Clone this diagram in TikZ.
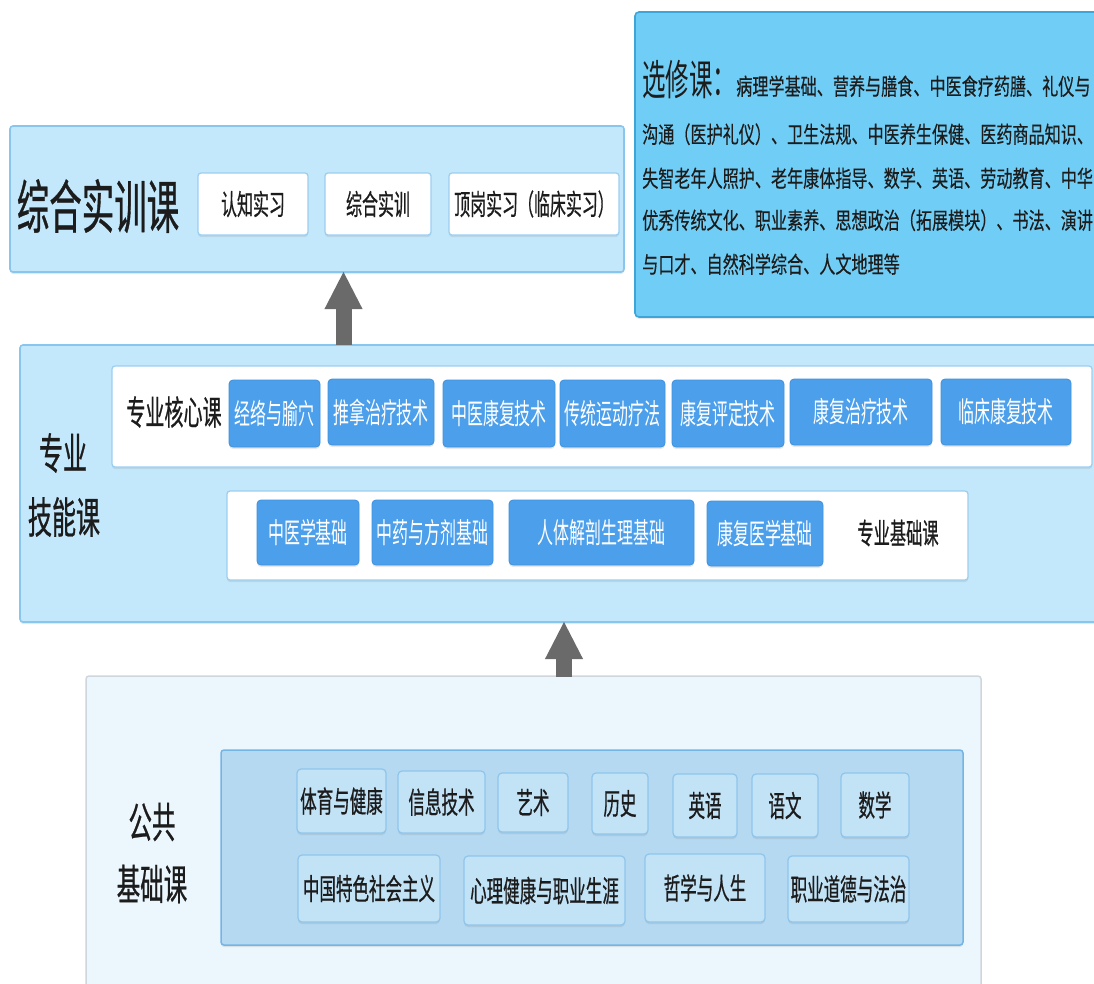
\documentclass[tikz,border=0pt]{standalone}
\usepackage{fontspec}
\usetikzlibrary{arrows.meta,shadows}
\newfontfamily\cjk[FakeStretch=0.56]{Noto Sans CJK SC}
\newfontfamily\cjkb[FakeStretch=0.56,FakeBold=0.6]{Noto Sans CJK SC}
\newfontfamily\cjkw[FakeStretch=0.70,FakeBold=0.3]{Noto Sans CJK SC}
\definecolor{layfill}{HTML}{C4E8FB}
\definecolor{laybd}{HTML}{88C6EE}
\definecolor{whbd}{HTML}{9CCFF0}
\definecolor{btnfill}{HTML}{4C9FEA}
\definecolor{btnbd}{HTML}{3F91DE}
\definecolor{pubout}{HTML}{ECF7FD}
\definecolor{puboutbd}{HTML}{D0D7DC}
\definecolor{pubin}{HTML}{B5D9F1}
\definecolor{pubinbd}{HTML}{74B5E6}
\definecolor{pubbox}{HTML}{C2E2F6}
\definecolor{pubboxbd}{HTML}{8EC5EC}
\definecolor{elfill}{HTML}{70CEF6}
\definecolor{elbd}{HTML}{3EA5D9}
\definecolor{arr}{HTML}{6A6A6A}
\definecolor{ink}{HTML}{1C1C1C}
\newcommand\fs[1]{\fontsize{#1}{#1}\selectfont}
\newcommand\bx[7]{\node[#2, minimum width={#5-#3}, minimum height={#6-#4}] (#1) at ({(#3+#5)/2},{(#4+#6)/2}) {#7};}
\tikzset{
  shad/.style={drop shadow={opacity=0.18, shadow xshift=0pt, shadow yshift=-2pt}},
  layer/.style={draw=laybd, fill=layfill, rounded corners=3pt, line width=1.6pt, inner sep=0pt, shad},
  whitebox/.style={draw=whbd, fill=white, rounded corners=3pt, line width=1.3pt, inner sep=0pt, text=ink, font=\cjkb\fs{28.5}, shad},
  btn/.style={draw=btnbd, fill=btnfill, rounded corners=4pt, line width=0.8pt, inner sep=0pt, text=white, font=\cjk\fs{28.5}, shad},
  pubouter/.style={draw=puboutbd, fill=pubout, rounded corners=3pt, line width=1.5pt, inner sep=0pt},
  pubinner/.style={draw=pubinbd, fill=pubin, rounded corners=3pt, line width=1.5pt, inner sep=0pt, shad},
  pbox/.style={draw=pubboxbd, fill=pubbox, rounded corners=4pt, line width=1.2pt, inner sep=0pt, text=ink, font=\cjkb\fs{29.5}, shad},
  elbox/.style={draw=elbd, fill=elfill, rounded corners=4pt, line width=1.6pt, inner sep=0pt, shad},
  lbl/.style={inner sep=0pt, text=ink, font=\cjkb\fs{#1}},
  elline/.style={inner sep=0pt, anchor=base west, text=ink, font=\cjkw\fs{23}},
  uparrow/.style={draw=arr, line width=16pt, -{Triangle[length=38pt,width=35pt]}}
}
\begin{document}
\begin{tikzpicture}[x=1pt,y=-1pt]
\useasboundingbox (0,0) rectangle (1094,983);
\clip (0,0) rectangle (1094,983);
\fill[white] (0,0) rectangle (1094,983);

% ---------- elective box ----------
\bx{el}{elbox}{635}{12}{1110}{317}{}
\node[elline] (el1) at (642,95) {{\cjk\fs{42}选修课：}病理学基础、营养与膳食、中医食疗药膳、礼仪与};
\node[elline] (el2) at (642,143) {沟通（医护礼仪）、卫生法规、中医养生保健、医药商品知识、};
\node[elline] (el3) at (642,187) {失智老年人照护、老年康体指导、数学、英语、劳动教育、中华};
\node[elline] (el4) at (642,229) {优秀传统文化、职业素养、思想政治（拓展模块）、书法、演讲};
\node[elline] (el5) at (642,273) {与口才、自然科学综合、人文地理等};

% ---------- comprehensive training ----------
\bx{train}{layer}{10}{126}{624}{272}{}
\node[lbl=58] (traint) at (98,206) {综合实训课};
\bx{t1}{whitebox}{198}{173}{308}{235}{认知实习}
\bx{t2}{whitebox}{325}{173}{431}{235}{综合实训}
\bx{t3}{whitebox}{449}{173}{619}{235}{顶岗实习（临床实习）}

% ---------- professional skills ----------
\bx{skill}{layer}{20}{345}{1110}{622}{}
\node[lbl=43] (skl1) at (63,453) {专业};
\node[lbl=43] (skl2) at (64,517) {技能课};
\bx{core}{whitebox}{112}{366}{1092}{467}{}
\node[lbl=34] (coret) at (174,412) {专业核心课};
\bx{c1}{btn}{229}{380}{320}{447}{经络与腧穴}
\bx{c2}{btn}{328}{379}{434}{445}{推拿治疗技术}
\bx{c3}{btn}{443}{380}{555}{447}{中医康复技术}
\bx{c4}{btn}{560}{380}{665}{447}{传统运动疗法}
\bx{c5}{btn}{672}{380}{784}{447}{康复评定技术}
\bx{c6}{btn}{790}{379}{932}{445}{康复治疗技术}
\bx{c7}{btn}{941}{379}{1071}{445}{临床康复技术}
\bx{base}{whitebox}{227}{491}{968}{580}{}
\bx{b1}{btn}{257}{500}{359}{565}{中医学基础}
\bx{b2}{btn}{372}{500}{493}{565}{中药与方剂基础}
\bx{b3}{btn}{509}{500}{694}{565}{人体解剖生理基础}
\bx{b4}{btn}{707}{501}{823}{566}{康复医学基础}
\node[lbl=29] (baset) at (898,533) {专业基础课};

% ---------- public foundation ----------
\bx{pub}{pubouter}{86}{676}{981}{1000}{}
\node[lbl=42] (pubt1) at (152,822) {公共};
\node[lbl=42] (pubt2) at (152,884) {基础课};
\bx{pubin}{pubinner}{221}{750}{963}{945}{}
\bx{p1}{pbox}{297}{769}{386}{833}{体育与健康}
\bx{p2}{pbox}{398}{771}{485}{833}{信息技术}
\bx{p3}{pbox}{498}{773}{568}{832}{艺术}
\bx{p4}{pbox}{592}{773}{648}{834}{历史}
\bx{p5}{pbox}{673}{774}{737}{837}{英语}
\bx{p6}{pbox}{752}{774}{818}{837}{语文}
\bx{p7}{pbox}{841}{773}{909}{837}{数学}
\bx{p8}{pbox}{298}{855}{440}{922}{中国特色社会主义}
\bx{p9}{pbox}{464}{856}{625}{925}{心理健康与职业生涯}
\bx{p10}{pbox}{645}{854}{765}{922}{哲学与人生}
\bx{p11}{pbox}{788}{856}{909}{922}{职业道德与法治}

% ---------- arrows ----------
\coordinate (a1s) at (343.5,345);
\coordinate (a1e) at (343.5,271);
\coordinate (a2s) at (564,677);
\coordinate (a2e) at (564,621);
\draw[uparrow] (a1s) -- (a1e);
\draw[uparrow] (a2s) -- (a2e);
\end{tikzpicture}
\end{document}
